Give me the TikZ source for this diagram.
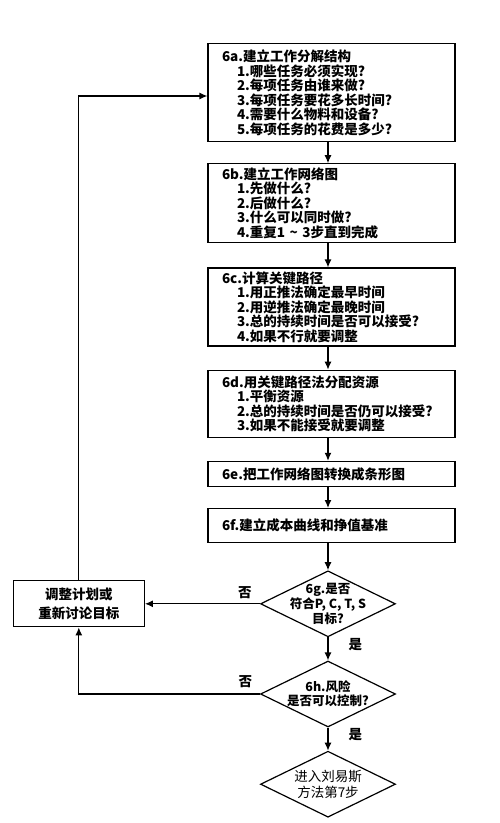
\documentclass[tikz,border=0pt]{standalone}
\usepackage{fontspec}
\setmainfont{Noto Sans CJK SC}
\usepackage{tikz}
\usetikzlibrary{arrows.meta}
\usetikzlibrary{positioning}
\usetikzlibrary{shapes.geometric}
\tikzset{
    stepbox/.style={draw, rectangle, minimum width=247pt, text width=219pt, inner xsep=14pt, inner ysep=2pt, align=left, font=\fontsize{13.5}{14.5}\selectfont\bfseries},
    decision/.style={draw, diamond, minimum width=135pt, minimum height=66pt, inner sep=0pt},
    dtext/.style={align=center, inner sep=0pt, font=\fontsize{12.5}{15}\selectfont\bfseries},
    answer/.style={inner sep=1pt, font=\fontsize{13.5}{15}\selectfont\bfseries},
}
\newcommand{\substep}[1]{\\\hspace*{15pt}#1}

\begin{document}
\begin{tikzpicture}[x=1pt,y=-1pt,->,>={Latex[length=8pt,width=7pt]},line width=1.2pt,node distance=23pt]
  \useasboundingbox (0,0) rectangle (500,823);
  % work breakdown steps
  \node[stepbox, minimum height=98pt, anchor=north] (A) at (331.5,43) {6a.建立工作分解结构\substep{1.哪些任务必须实现?}\substep{2.每项任务由谁来做?}\substep{3.每项任务要花多长时间?}\substep{4.需要什么物料和设备?}\substep{5.每项任务的花费是多少?}};
  \node[stepbox, minimum height=79pt, below=21pt of A] (B) {6b.建立工作网络图\substep{1.先做什么?}\substep{2.后做什么?}\substep{3.什么可以同时做?}\substep{4.重复1 \textasciitilde{} 3步直到完成}};
  \node[stepbox, minimum height=78pt, below=24pt of B] (C) {6c.计算关键路径\substep{1.用正推法确定最早时间}\substep{2.用逆推法确定最晚时间}\substep{3.总的持续时间是否可以接受?}\substep{4.如果不行就要调整}};
  \node[stepbox, minimum height=67pt, below=23pt of C] (D) {6d.用关键路径法分配资源\substep{1.平衡资源}\substep{2.总的持续时间是否仍可以接受?}\substep{3.如果不能接受就要调整}};
  \node[stepbox, minimum height=25pt, below=23pt of D] (E) {6e.把工作网络图转换成条形图};
  \node[stepbox, minimum height=34pt, below=21pt of E] (F) {6f.建立成本曲线和挣值基准};
  % decisions
  \node[decision, below=27pt of F, xshift=-3.5pt] (G) {};
  \node[dtext] (Gt) at (G) {6g.是否\\符合P, C, T, S\\目标?};
  \node[decision, below=23pt of G] (H) {};
  \node[dtext, font=\fontsize{12.5}{14}\selectfont\bfseries] (Ht) at (H) {6h.风险\\是否可以控制?};
  \node[decision, below=23pt of H] (K) {};
  \node[dtext, font=\fontsize{13.5}{16}\selectfont] (Kt) at (K) {进入刘易斯\\方法第7步};
  \node[draw, rectangle, minimum width=131pt, minimum height=46pt, align=center, font=\fontsize{13.5}{19}\selectfont\bfseries, left=115pt of G] (L) {调整计划或\\重新讨论目标};
  \coordinate (loop) at (0,96);

  \path (A.south -| G) edge (B.north -| G);
  \path (B.south -| G) edge (C.north -| G);
  \path (C.south -| G) edge (D.north -| G);
  \path (D.south -| G) edge (E.north -| G);
  \path (E.south -| G) edge (F.north -| G);
  \path (F.south -| G) edge (G.north);
  \path (G) edge node[answer, right=19pt, pos=0.3] {是} (H);
  \path (H) edge node[answer, right=19pt, pos=0.3] {是} (K);
  \path (G) edge node[answer, above=3pt, pos=0.13] {否} (L);
  \draw (H.west) -- (H.west -| L) node[answer, above=5pt, pos=0.08] {否} -- (L.south);
  \draw (L.north) -- (L.north |- loop) -- (A.west |- loop);
\end{tikzpicture}
\end{document}
